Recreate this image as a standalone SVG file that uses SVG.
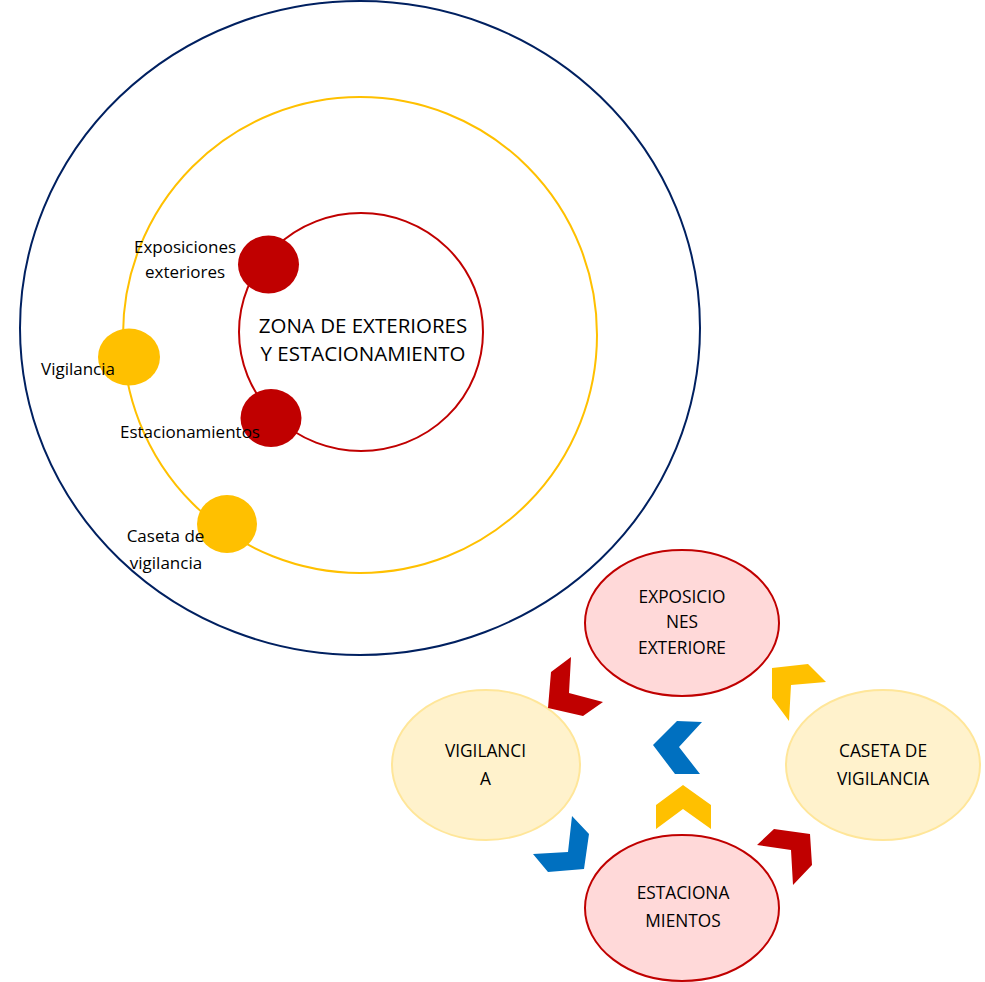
<svg xmlns="http://www.w3.org/2000/svg" width="985" height="982" viewBox="0 0 985 982">
<style>
text{font-family:"Open Sans","Liberation Sans",sans-serif;fill:#000;text-anchor:middle}
.lbl{font-size:17px}
.big{font-size:20.5px}
.sm{font-size:17.3px}
.red{fill:#C00000}
.yel{fill:#FFC000}
.blu{fill:#0070C0}
.pink{fill:#FFD9D9;stroke:#C00000;stroke-width:2}
.cream{fill:#FFF2CC;stroke:#FFE699;stroke-width:2}
</style>
<rect width="985" height="982" fill="#fff"/>
<g id="rings" fill="none">
<ellipse cx="360" cy="328" rx="340" ry="327" stroke="#002060" stroke-width="2"/>
<ellipse cx="360" cy="335" rx="237" ry="238" stroke="#FFC000" stroke-width="2"/>
<ellipse cx="361" cy="332" rx="122" ry="119" stroke="#C00000" stroke-width="2"/>
</g>
<g id="center-label">
<text class="big" x="363" y="333">ZONA DE EXTERIORES</text>
<text class="big" x="363" y="361">Y ESTACIONAMIENTO</text>
</g>
<g id="exposiciones-dot">
<ellipse class="red" cx="268.5" cy="264.5" rx="30.5" ry="29"/>
<text class="lbl" x="185" y="253">Exposiciones</text>
<text class="lbl" x="185" y="278">exteriores</text>
</g>
<g id="vigilancia-dot">
<ellipse class="yel" cx="129" cy="357" rx="31" ry="28.5"/>
<text class="lbl" x="78" y="375">Vigilancia</text>
</g>
<g id="estacionamientos-dot">
<ellipse class="red" cx="271" cy="418" rx="30.5" ry="29"/>
<text class="lbl" x="190" y="438">Estacionamientos</text>
</g>
<g id="caseta-dot">
<ellipse class="yel" cx="227" cy="524" rx="30" ry="29"/>
<text class="lbl" x="165.5" y="542">Caseta de</text>
<text class="lbl" x="166" y="569">vigilancia</text>
</g>
<g id="node-exposiciones">
<ellipse class="pink" cx="682" cy="623" rx="97" ry="73"/>
<text class="sm" x="682" y="603">EXPOSICIO</text>
<text class="sm" x="682" y="628">NES</text>
<text class="sm" x="682" y="654">EXTERIORE</text>
</g>
<g id="node-vigilancia">
<ellipse class="cream" cx="486" cy="765" rx="94" ry="75"/>
<text class="sm" x="485.5" y="757">VIGILANCI</text>
<text class="sm" x="485.5" y="785">A</text>
</g>
<g id="node-caseta">
<ellipse class="cream" cx="883" cy="765" rx="97" ry="75"/>
<text class="sm" x="883" y="757">CASETA DE</text>
<text class="sm" x="883" y="785">VIGILANCIA</text>
</g>
<g id="node-estacionamientos">
<ellipse class="pink" cx="682" cy="908" rx="97" ry="73"/>
<text class="sm" x="683" y="899">ESTACIONA</text>
<text class="sm" x="683" y="927">MIENTOS</text>
</g>
<g id="connectors">
<polygon class="red" points="551,672 571,657 569,693 603,702 583,716 548,708"/>
<polygon class="blu" points="677,721 702,722 679,747 700,774 675,774 653,745"/>
<polygon class="yel" points="772,668 808,664 826,682 791,685 789,721 772,698"/>
<polygon class="yel" points="683,785 711,805 711,829 683,809 656,829 656,805"/>
<polygon class="blu" points="572,816 589,834 584,869 548,872 533,854 568,852"/>
<polygon class="red" points="774,829 810,834 812,865 793,885 791,850 757,845"/>
</g>
</svg>
